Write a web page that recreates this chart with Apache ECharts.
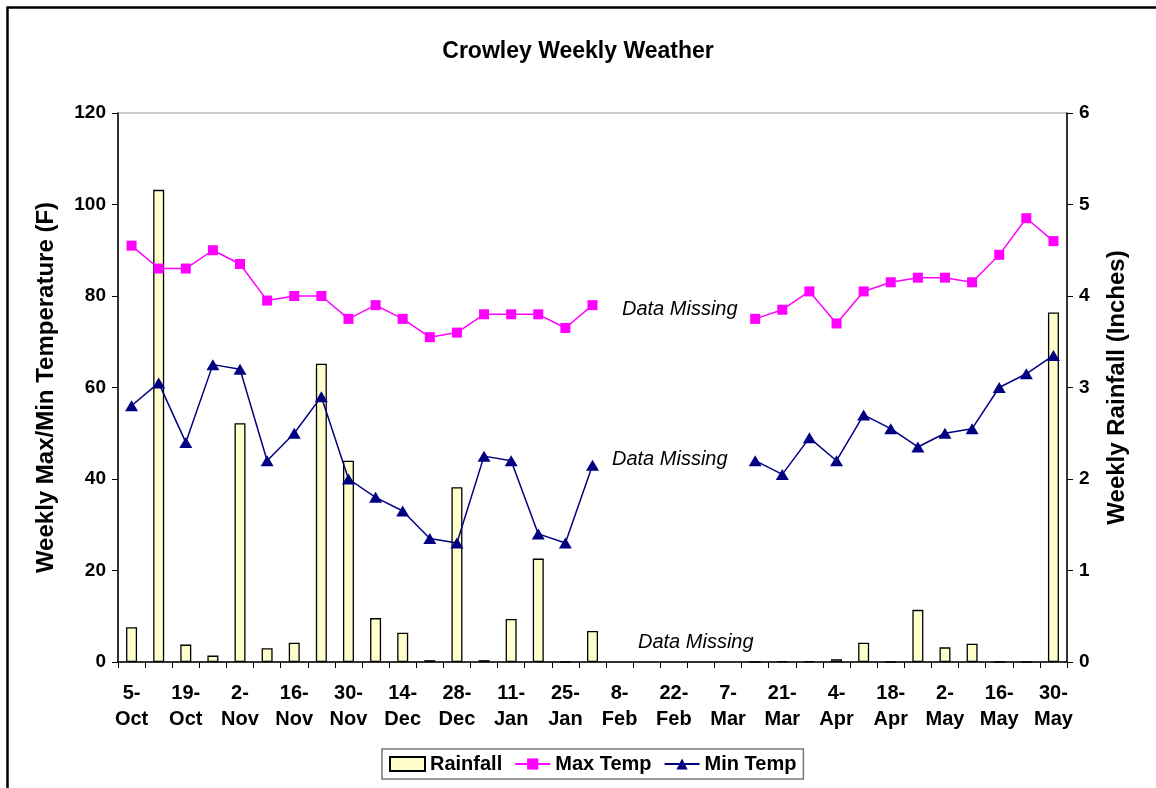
<!DOCTYPE html>
<html>
<head>
<meta charset="utf-8">
<script src="https://cdn.jsdelivr.net/npm/echarts@6/dist/echarts.min.js"></script>
<style>
html, body { margin: 0; padding: 0; background: #fff; }
#chart { width: 1156px; height: 788px; }
</style>
</head>
<body>
<div id="chart"></div>
<script>
var weeks = ['5-Oct', '12-Oct', '19-Oct', '26-Oct', '2-Nov', '9-Nov', '16-Nov', '23-Nov', '30-Nov',
    '7-Dec', '14-Dec', '21-Dec', '28-Dec', '4-Jan', '11-Jan', '18-Jan', '25-Jan',
    '1-Feb', '8-Feb', '15-Feb', '22-Feb', '29-Feb', '7-Mar', '14-Mar', '21-Mar', '28-Mar',
    '4-Apr', '11-Apr', '18-Apr', '25-Apr', '2-May', '9-May', '16-May', '23-May', '30-May'];

var rainfall = [0.38, 5.16, 0.19, 0.07, 2.61, 0.15, 0.21, 3.26, 2.20, 0.48, 0.32, 0.02, 1.91, 0.02, 0.47, 1.13, 0, 0.34,
    null, null, null, null, null,
    0, 0.01, 0.01, 0.03, 0.21, 0, 0.57, 0.16, 0.20, 0, 0, 3.82];

var maxTemp = [91, 86, 86, 90, 87, 79, 80, 80, 75, 78, 75, 71, 72, 76, 76, 76, 73, 78,
    null, null, null, null, null,
    75, 77, 81, 74, 81, 83, 84, 84, 83, 89, 97, 92];

var minTemp = [56, 61, 48, 65, 64, 44, 50, 58, 40, 36, 33, 27, 26, 45, 44, 28, 26, 43,
    null, null, null, null, null,
    44, 41, 49, 44, 54, 51, 47, 50, 51, 60, 63, 67];

var missingNote = 'Data Missing';

var font = '"Liberation Sans", Arial, sans-serif';

var chart = echarts.init(document.getElementById('chart'));

var option = {
    animation: false,
    backgroundColor: '#fff',
    title: {
        text: 'Crowley Weekly Weather',
        left: 'center',
        top: 35,
        textStyle: { fontFamily: font, fontSize: 23, fontWeight: 'bold', color: '#000' }
    },
    legend: {
        left: 382,
        top: 749,
        padding: [5, 7, 5, 7],
        borderColor: '#777',
        borderWidth: 1.5,
        itemGap: 12,
        itemWidth: 35,
        itemHeight: 14,
        textStyle: { fontFamily: font, fontSize: 20, fontWeight: 'bold', color: '#000' },
        data: [
            { name: 'Rainfall', icon: 'rect' },
            { name: 'Max Temp' },
            { name: 'Min Temp' }
        ]
    },
    grid: {
        left: 118,
        right: 89,
        top: 113,
        bottom: 126,
        show: true,
        borderColor: '#999',
        borderWidth: 1
    },
    xAxis: {
        type: 'category',
        data: weeks,
        boundaryGap: true,
        axisLine: { lineStyle: { color: '#000', width: 1.5 } },
        axisTick: { show: true, interval: 0, length: 6, lineStyle: { color: '#000', width: 1 } },
        axisLabel: {
            interval: 1,
            margin: 18,
            fontFamily: font,
            fontSize: 20,
            fontWeight: 'bold',
            color: '#000',
            lineHeight: 26,
            formatter: function (v) {
                var p = v.split('-');
                return p[0] + '-\n' + p[1];
            }
        },
        splitLine: { show: false }
    },
    yAxis: [{
        type: 'value',
        min: 0,
        max: 120,
        interval: 20,
        position: 'left',
        name: 'Weekly Max/Min Temperature (F)',
        nameLocation: 'middle',
        nameRotate: 90,
        nameGap: 60,
        nameTextStyle: { fontFamily: font, fontSize: 24, fontWeight: 'bold', color: '#000' },
        axisLine: { show: true, lineStyle: { color: '#000', width: 1.5 } },
        axisTick: { show: true, length: 6, lineStyle: { color: '#000' } },
        axisLabel: { margin: 12, fontFamily: font, fontSize: 19, fontWeight: 'bold', color: '#000' },
        splitLine: { show: false }
    }, {
        type: 'value',
        min: 0,
        max: 6,
        interval: 1,
        position: 'right',
        name: 'Weekly Rainfall (Inches)',
        nameLocation: 'middle',
        nameRotate: 90,
        nameGap: 38,
        nameTextStyle: { fontFamily: font, fontSize: 24, fontWeight: 'bold', color: '#000' },
        axisLine: { show: true, lineStyle: { color: '#000', width: 1.5 } },
        axisTick: { show: true, length: 6, lineStyle: { color: '#000' } },
        axisLabel: { margin: 12, fontFamily: font, fontSize: 19, fontWeight: 'bold', color: '#000' },
        splitLine: { show: false }
    }],
    series: [{
        name: 'Rainfall',
        type: 'bar',
        yAxisIndex: 1,
        data: rainfall,
        barWidth: 11,
        itemStyle: { color: '#FFFFCC', borderColor: '#000', borderWidth: 1.3 },
        z: 1
    }, {
        name: 'Max Temp',
        type: 'line',
        yAxisIndex: 0,
        data: maxTemp,
        connectNulls: false,
        symbol: 'rect',
        symbolSize: 10,
        lineStyle: { color: '#FF00FF', width: 1.5 },
        itemStyle: { color: '#FF00FF' },
        z: 3
    }, {
        name: 'Min Temp',
        type: 'line',
        yAxisIndex: 0,
        data: minTemp,
        connectNulls: false,
        symbol: 'triangle',
        symbolSize: [13, 11],
        lineStyle: { color: '#000080', width: 1.5 },
        itemStyle: { color: '#000080' },
        z: 4
    }],
    graphic: [{
        type: 'rect',
        left: 5,
        top: 5,
        shape: { width: 1200, height: 900 },
        style: { fill: 'none', stroke: '#000', lineWidth: 2.5 },
        silent: true
    }, {
        type: 'text',
        left: 622,
        top: 299,
        style: { text: missingNote, font: 'italic 20px ' + font, fill: '#000' }
    }, {
        type: 'text',
        left: 612,
        top: 449,
        style: { text: missingNote, font: 'italic 20px ' + font, fill: '#000' }
    }, {
        type: 'text',
        left: 638,
        top: 632,
        style: { text: missingNote, font: 'italic 20px ' + font, fill: '#000' }
    }]
};

chart.setOption(option);
window.addEventListener('resize', function () {
    chart.resize();
});
</script>
</body>
</html>
